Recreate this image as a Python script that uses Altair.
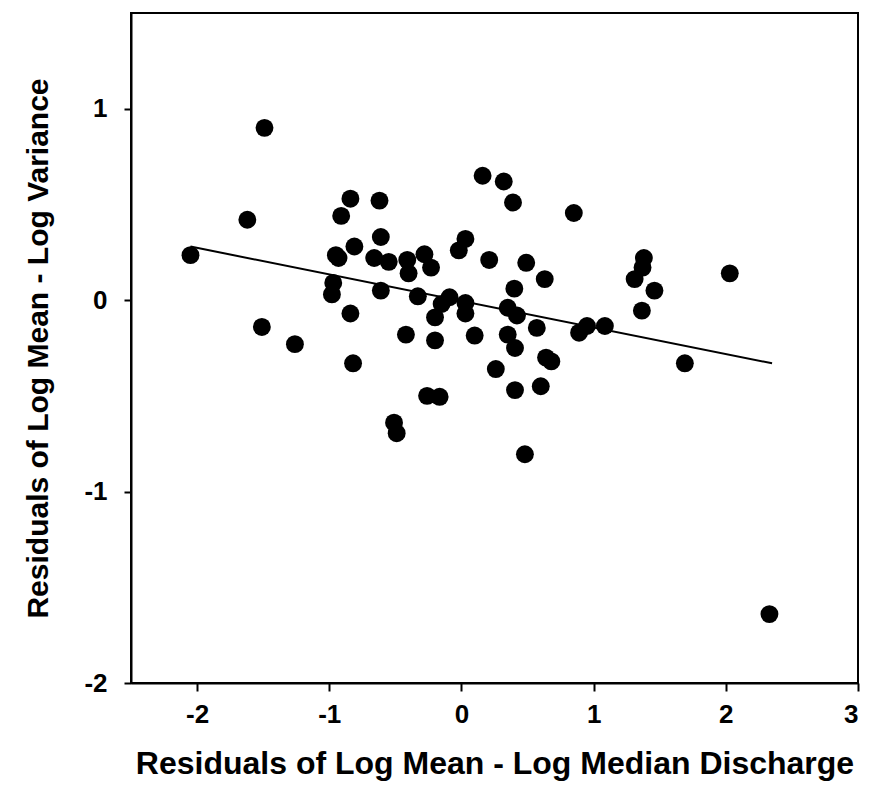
import altair as alt
import pandas as pd

x_vals = [-2.05, -1.62, -1.49, -1.51, -1.26, -0.84, -0.91, -0.62, -0.61, -0.81,
          -0.95, -0.93, -0.97, -0.98, -0.84, -0.82, -0.66, -0.55, -0.41, -0.40,
          -0.28, -0.23, -0.61, -0.33, -0.42, -0.20, -0.15, -0.09, -0.20, 0.03,
          0.03, 0.10, 0.03, -0.02, 0.21, 0.16, 0.32, 0.39, 0.85, 0.49,
          0.63, 0.40, 0.35, 0.42, 0.57, 0.35, 0.405, 0.26, 0.68, 0.64,
          0.405, 0.60, 1.38, 1.37, 1.31, 1.46, 1.365, 0.89, 0.95, 1.085,
          1.69, 2.03, -0.26, -0.165, -0.51, -0.49, 0.48, 2.33]
y_vals = [0.235, 0.42, 0.90, -0.14, -0.23, 0.53, 0.44, 0.52, 0.33, 0.28,
          0.235, 0.22, 0.09, 0.03, -0.07, -0.33, 0.22, 0.20, 0.21, 0.14,
          0.24, 0.17, 0.05, 0.02, -0.18, -0.21, -0.02, 0.015, -0.09, -0.015,
          -0.07, -0.185, 0.32, 0.26, 0.21, 0.65, 0.62, 0.51, 0.455, 0.195,
          0.11, 0.06, -0.04, -0.08, -0.145, -0.18, -0.25, -0.36, -0.32, -0.30,
          -0.47, -0.45, 0.22, 0.17, 0.11, 0.05, -0.055, -0.17, -0.135, -0.135,
          -0.33, 0.14, -0.50, -0.505, -0.64, -0.695, -0.805, -1.64]

fit_x = [-2.05, 2.35]
fit_y = [0.28, -0.33]

x_ticks = [-2, -1, 0, 1, 2, 3]
y_ticks = [-2, -1, 0, 1]

pts = pd.DataFrame({"x": x_vals, "y": y_vals})
fit = pd.DataFrame({"x": fit_x, "y": fit_y})

FONT = "Liberation Sans"

xscale = alt.Scale(domain=[-2.5, 3], nice=False, zero=False)
yscale = alt.Scale(domain=[-2, 1.5], nice=False, zero=False)

xaxis = alt.Axis(title="Residuals of Log Mean - Log Median Discharge", values=x_ticks,
                 grid=False, tickSize=8, tickWidth=2, tickColor="black",
                 domainColor="black", domainWidth=2, labelPadding=10,
                 labelExpr="'' + datum.value",
                 labelFont=FONT, labelFontSize=26, labelFontWeight="bold", labelColor="black",
                 titleFont=FONT, titleFontSize=32, titleFontWeight="bold", titleColor="black",
                 titlePadding=21)
yaxis = alt.Axis(title="Residuals of Log Mean - Log Variance", values=y_ticks,
                 grid=False, tickSize=7, tickWidth=2, tickColor="black",
                 domainColor="black", domainWidth=2, labelPadding=17,
                 labelExpr="'' + datum.value",
                 labelFont=FONT, labelFontSize=26, labelFontWeight="bold", labelColor="black",
                 titleFont=FONT, titleFontSize=30, titleFontWeight="bold", titleColor="black",
                 titlePadding=30)

points = alt.Chart(pts).mark_circle(size=320, color="black", opacity=1).encode(
    x=alt.X("x:Q", scale=xscale, axis=xaxis),
    y=alt.Y("y:Q", scale=yscale, axis=yaxis),
)
line = alt.Chart(fit).mark_line(color="black", strokeWidth=2).encode(
    x=alt.X("x:Q", scale=xscale),
    y=alt.Y("y:Q", scale=yscale),
)

chart = alt.layer(points, line).properties(
    width=727, height=670,
    autosize=alt.AutoSizeParams(type="none"),
    padding={"left": 131, "top": 13, "right": 11, "bottom": 110},
    background="white",
).configure_view(stroke="black", strokeWidth=2)

chart.save("out.html", embed_options={"renderer": "svg", "actions": False})
